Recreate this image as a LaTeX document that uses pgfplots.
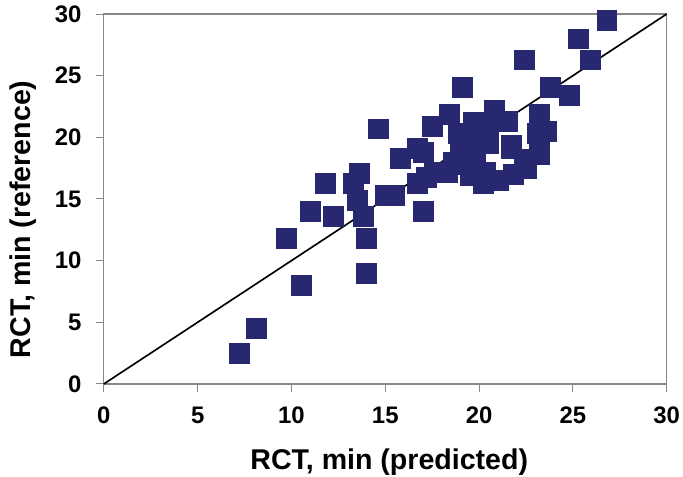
\documentclass[border=0pt]{standalone}
\usepackage{fontspec}
\setmainfont{Liberation Sans}
\usepackage{pgfplots}
\pgfplotsset{compat=1.18}
\definecolor{navy}{RGB}{40,40,112}
\definecolor{axisgray}{RGB}{135,135,135}
\begin{document}
\begin{tikzpicture}
\begin{axis}[
    scale only axis,
    width=339pt, height=222.8pt,
    xmin=0, xmax=30, ymin=0, ymax=30,
    xtick={0,5,...,30}, ytick={0,5,...,30},
    tick pos=left,
    tick align=outside,
    major tick length=5pt,
    tick style={axisgray, line width=0.6pt},
    axis line style={axisgray, line width=0.8pt},
    /pgf/number format/assume math mode=true,
    ticklabel style={font=\fontsize{14.4}{17}\selectfont\bfseries},
    xticklabel style={inner xsep=1.8pt, yshift=-5.5pt},
    yticklabel style={xshift=-5pt},
    clip=false,
    xlabel={RCT, min (predicted)},
    ylabel={RCT, min (reference)},
    label style={font=\fontsize{17.2}{20}\selectfont\bfseries},
    xlabel style={at={(axis description cs:0.507,-0.232)}, anchor=base, inner ysep=0.6pt},
    ylabel style={at={(axis description cs:-0.13,0.445)}, anchor=base, rotate=0, inner ysep=6pt},
]
\addplot[only marks, mark=square*, mark size=6pt, color=navy, mark options={fill=navy, draw=navy, line width=0.2pt}] coordinates {
(7.2,2.5) (8.1,4.5) (10.5,8.0) (9.7,11.8) (11.0,14.0) (11.8,16.3) (12.2,13.6)
(13.6,17.1) (13.3,16.3) (13.5,14.9) (13.8,13.6) (14.0,11.8) (14.0,9.0) (14.6,20.7)
(15.0,15.3) (15.5,15.3) (15.8,18.3) (16.7,19.1) (16.7,16.3) (17.2,16.8) (17.0,14.0)
(17.5,20.9) (17.0,18.8) (17.6,17.2) (18.4,21.9) (18.9,20.3) (19.1,24.1) (19.7,21.2)
(20.8,22.2) (21.5,21.3) (22.4,26.3) (23.2,21.9) (23.8,24.1) (24.8,23.4) (25.3,28.0)
(25.9,26.3) (26.8,29.5) (23.1,20.3) (23.6,20.5) (21.7,19.4) (23.2,19.1) (23.2,18.6)
(22.4,18.2) (21.7,19.1) (19.0,19.0) (19.8,18.5) (20.5,19.5) (19.3,17.8) (18.3,17.2)
(18.6,18.0) (20.3,17.2) (19.5,16.9) (20.2,16.3) (21.0,16.5) (21.8,17.0) (20.5,20.5)
(19.5,20.0) (22.5,17.5)
};
\addplot[black, line width=1pt, no marks] coordinates {(0,0) (30,30)};
\end{axis}
\end{tikzpicture}
\end{document}
